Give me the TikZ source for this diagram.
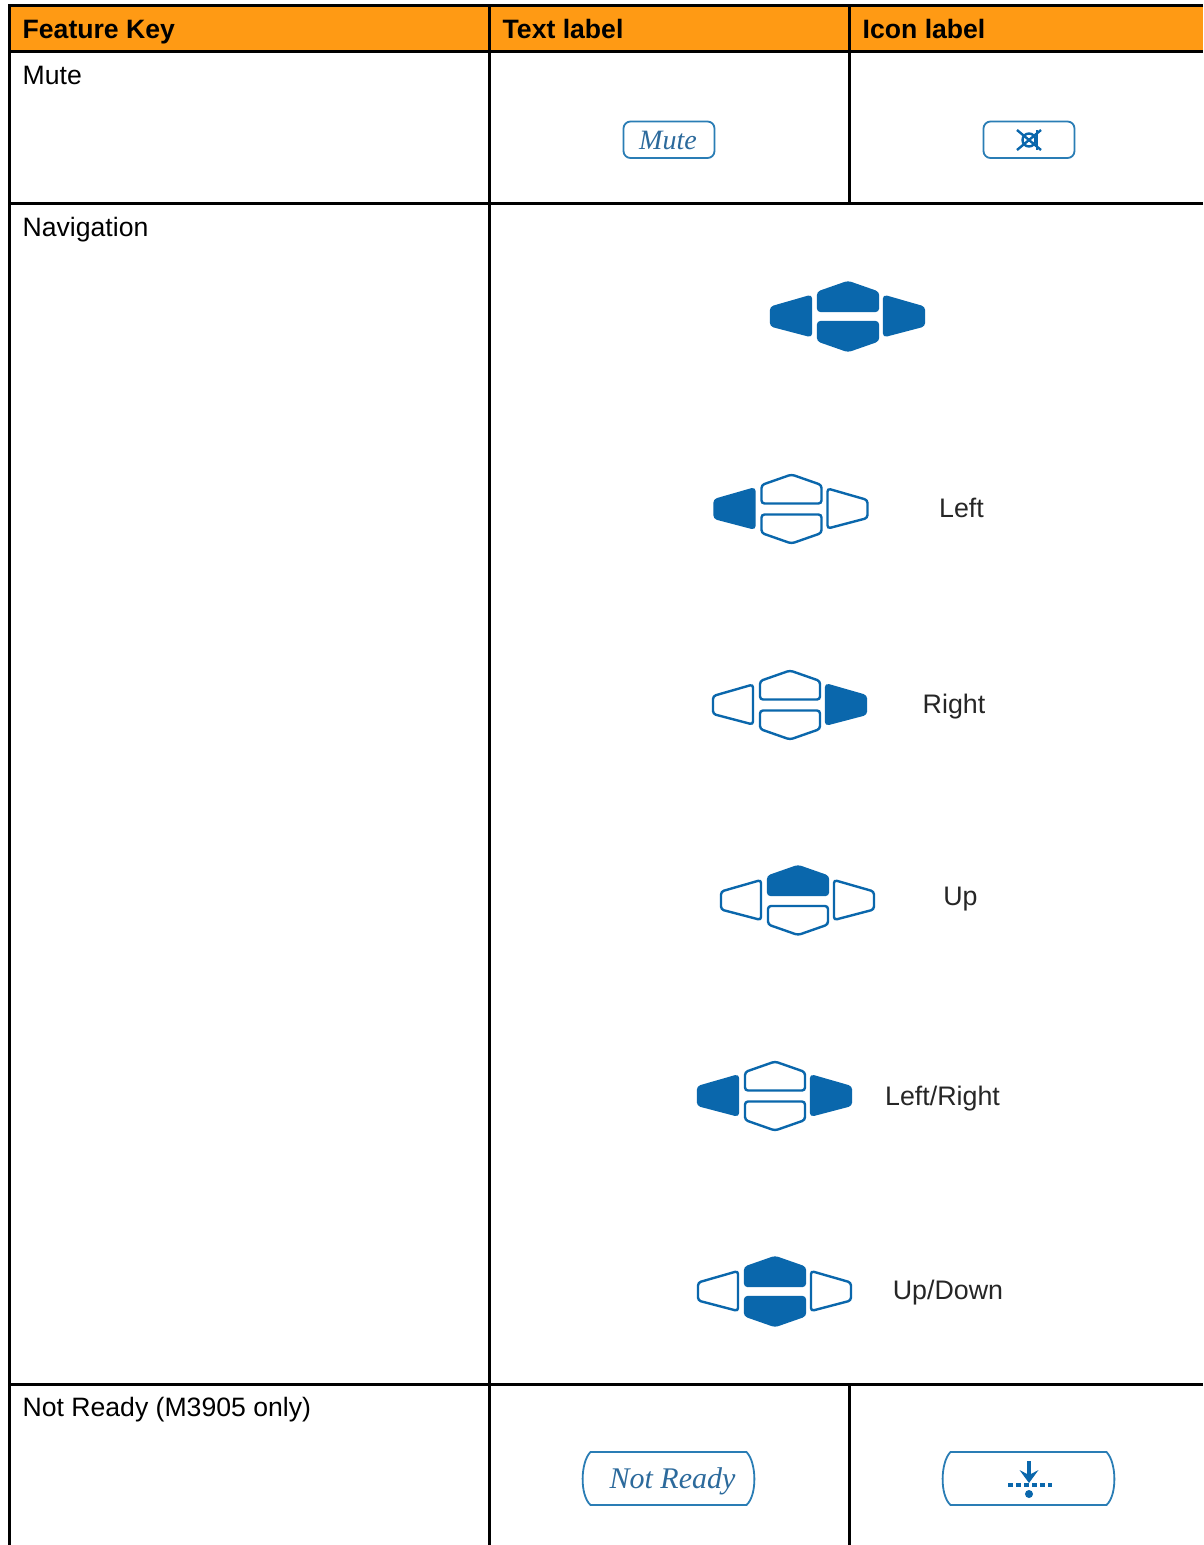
\documentclass[tikz,border=0pt]{standalone}
\usepackage{fontspec}
\setmainfont{Liberation Sans}
\newfontfamily\btnfont{Liberation Serif}
\definecolor{hdr}{HTML}{FF9A14}
\definecolor{navblue}{HTML}{0A67AC}
\definecolor{btnblue}{HTML}{2A7DB5}
\definecolor{txtblue}{HTML}{2C6A9C}
\tikzset{
  rule/.style={line width=3pt,black},
  celltext/.style={anchor=base west,inner sep=0pt,font=\fontsize{26.6}{30}\selectfont,text=black},
  headtext/.style={celltext,font=\fontsize{26.6}{30}\selectfont\bfseries},
  navtext/.style={anchor=base,inner sep=0pt,font=\fontsize{26.8}{30}\selectfont,text=black!85},
  off/.style={draw=navblue,line width=2.4pt,fill=white,rounded corners=3pt},
  on/.style={draw=navblue,line width=2.4pt,fill=navblue,rounded corners=3pt},
  btn/.style={draw=btnblue,line width=1.8pt,fill=white},
  btntext/.style={inner sep=0pt,text=txtblue,font=\btnfont\itshape},
}
\newcommand{\navicon}[6]{%
  \begin{scope}[shift={(#1,#2)}]
    \draw[#3] (-77,-9) -- (-37,-20.5) -- (-37,19.5) -- (-77,9) -- cycle;
    \draw[#4] (-30,-24) -- (0,-34.5) -- (30,-24) -- (30,-5.5) -- (-30,-5.5) -- cycle;
    \draw[#5] (-30,5.5) -- (30,5.5) -- (30,24) -- (0,34.5) -- (-30,24) -- cycle;
    \draw[#6] (36,-20.5) -- (76,-9) -- (76,9) -- (36,19.5) -- cycle;
  \end{scope}}
\newcommand{\longbtn}[2]{%
  \draw[btn] (#1+9,#2) -- (#1+165,#2) .. controls (#1+175,#2+10) and (#1+176,#2+43) .. (#1+165,#2+53)
    -- (#1+9,#2+53) .. controls (#1-2,#2+43) and (#1-1,#2+10) .. (#1+9,#2) -- cycle;}
\begin{document}
\begin{tikzpicture}[x=1pt,y=-1pt]
\useasboundingbox (0,0) rectangle (1203,1545);
\fill[white] (0,0) rectangle (1203,1545);
\fill[hdr] (9.5,5.5) rectangle (1203,51);
% table rules
\draw[rule] (1203,5.5) -- (9.5,5.5) -- (9.5,1545);
\draw[rule] (9.5,51.5) -- (1203,51.5);
\draw[rule] (9.5,203) -- (1203,203);
\draw[rule] (9.5,1384) -- (1203,1384);
\draw[rule] (489.5,5.5) -- (489.5,1545);
\draw[rule] (849.5,5.5) -- (849.5,203);
\draw[rule] (849.5,1384) -- (849.5,1545);
% header and first column
\node[headtext] (h1) at (22.5,38) {Feature Key};
\node[headtext] (h2) at (502.5,38) {Text label};
\node[headtext] (h3) at (862.5,38) {Icon label};
\node[celltext] (k1) at (22.5,84) {Mute};
\node[celltext] (k2) at (22.5,236) {Navigation};
\node[celltext] (k3) at (22.5,1416) {Not Ready (M3905 only)};
% mute buttons
\draw[btn,rounded corners=7pt] (623.5,121.5) rectangle (714.5,158);
\node[btntext,font=\btnfont\itshape\fontsize{28}{30}\selectfont] (mute) at (668,140) {Mute};
\draw[btn,rounded corners=7pt] (983.5,121.5) rectangle (1074.5,158);
\begin{scope}[draw=navblue,line width=2.4pt]
  \draw (1029,140) circle (6.5);
  \draw (1017,130) -- (1041,150);
  \draw (1017,150) -- (1041,130);
  \draw (1037,130) -- (1037,150);
\end{scope}
% navigation icons
\navicon{848}{316.5}{on}{on}{on}{on}
\navicon{791.5}{509}{on}{off}{off}{off}
\navicon{790}{705}{off}{off}{off}{on}
\navicon{798}{900.5}{off}{on}{off}{off}
\navicon{775}{1096}{on}{off}{off}{on}
\navicon{775}{1291.5}{off}{on}{on}{off}
\node[navtext] (n1) at (961.5,517) {Left};
\node[navtext] (n2) at (954,713) {Right};
\node[navtext] (n3) at (960.5,905) {Up};
\node[navtext] (n4) at (942.5,1105) {Left/Right};
\node[navtext] (n5) at (948,1299) {Up/Down};
% not ready buttons
\longbtn{581.5}{1452}
\node[btntext,font=\btnfont\itshape\fontsize{30}{32}\selectfont] (nr) at (672.5,1481) {Not Ready};
\longbtn{941.5}{1452}
\begin{scope}[navblue]
  \draw[line width=3.2pt] (1029,1461) -- (1029,1478);
  \fill (1019.5,1470) -- (1029,1475) -- (1038.5,1470) -- (1029,1483) -- cycle;
  \draw[line width=3.2pt,dash pattern=on 5pt off 3pt] (1008,1485) -- (1052,1485);
  \fill (1029,1494) circle (4);
\end{scope}
\end{tikzpicture}
\end{document}
